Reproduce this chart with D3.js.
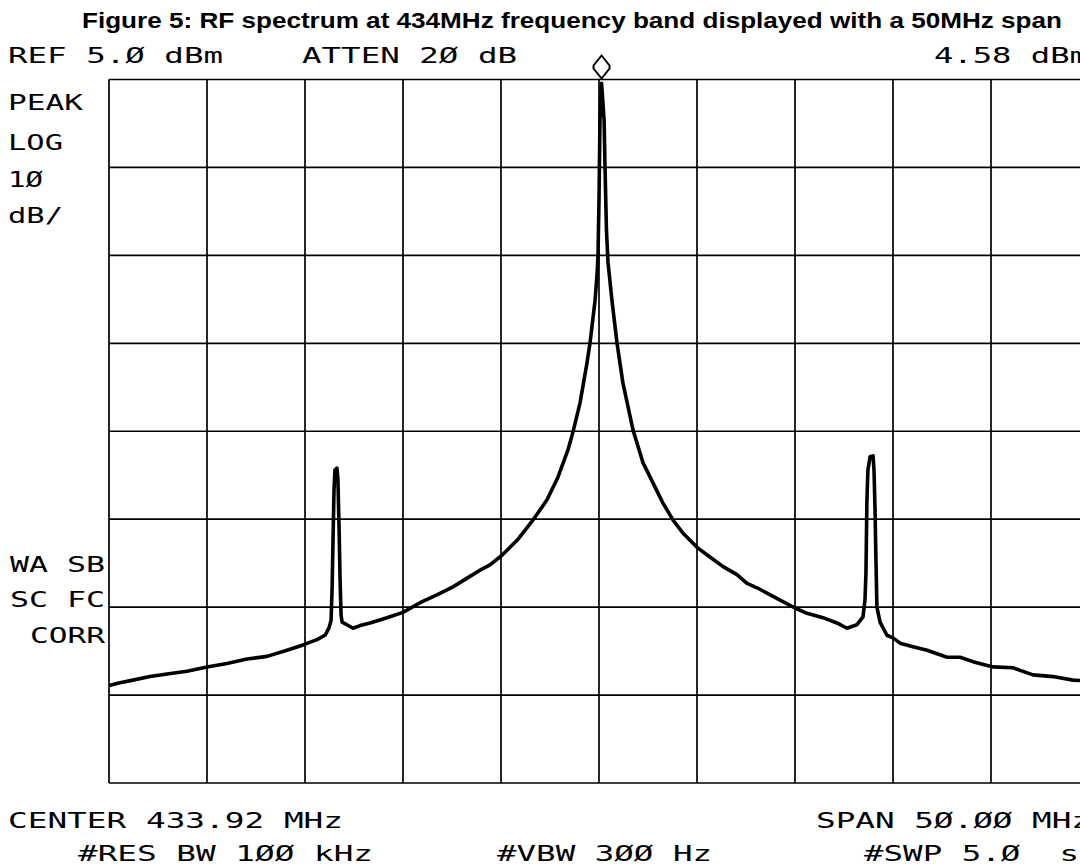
<!DOCTYPE html>
<html>
<head>
<meta charset="utf-8">
<script src="https://cdn.jsdelivr.net/npm/d3@7"></script>
<style>
  html, body { margin: 0; padding: 0; background: #fff; overflow: hidden; }
  .scr { font-family: "DejaVu Sans Mono", monospace; font-size: 21px; fill: #000; }
</style>
</head>
<body>
<script>
width = 1080;
height = 867;

// analyser settings
const centerMHz = 433.92;
const spanMHz = 50;
const refLevel = 5;        // dBm, top of screen
const dbPerDiv = 10;
const markerLevel = 4.58;  // dBm readout

// gridline values
const freqTicks = [408.92, 413.92, 418.92, 423.92, 428.92, 433.92, 438.92, 443.92, 448.92, 453.92, 458.92];
const levelTicks = [5, -5, -15, -25, -35, -45, -55, -65, -75];

// trace
const freqMHz = [
  408.92, 409.48, 410.14, 411.01, 411.88, 412.90, 413.92, 414.94, 415.96, 416.98,
  418.00, 418.82, 419.53, 419.94, 420.14, 420.25, 420.30, 420.35, 420.40, 420.45,
  420.55, 420.60, 420.66, 420.71, 420.76, 420.81, 421.06, 421.37, 421.73, 422.24,
  423.10, 423.92, 424.79, 425.65, 426.47, 427.19, 427.85, 428.36, 428.97, 429.74,
  430.55, 431.27, 431.83, 432.34, 432.59, 432.95, 433.31, 433.46, 433.72, 433.82,
  433.87, 433.92, 433.97, 434.05, 434.18, 434.23, 434.30, 434.38, 434.58, 434.84,
  435.14, 435.66, 436.17, 436.68, 437.19, 437.70, 438.21, 438.92, 439.58, 440.25,
  440.96, 441.47, 441.98, 442.49, 443.16, 443.92, 444.53, 445.35, 446.06, 446.57,
  447.08, 447.39, 447.49, 447.54, 447.59, 447.64, 447.75, 447.90, 447.95, 448.00,
  448.05, 448.10, 448.26, 448.61, 448.92, 449.28, 449.94, 450.66, 451.68, 452.34,
  453.00, 454.02, 455.04, 456.06, 457.08, 458.10, 458.92
];
const levelDbm = [
  -63.9, -63.6, -63.3, -62.9, -62.6, -62.3, -61.8, -61.4, -60.9, -60.6,
  -59.9, -59.3, -58.7, -58.2, -57.4, -56.5, -53.1, -47.4, -41.7, -39.4,
  -39.2, -40.5, -46.2, -51.9, -55.9, -56.7, -57.0, -57.4, -57.1, -56.8,
  -56.2, -55.6, -54.5, -53.6, -52.7, -51.7, -50.8, -50.2, -49.1, -47.4,
  -45.1, -42.8, -40.2, -37.1, -35.1, -31.8, -27.2, -25.0, -20.1, -17.2,
  -14.9, -8.7, 0.4, 4.58, 0.4, -5.3, -12.1, -15.8, -20.1, -25.0,
  -29.5, -34.9, -38.6, -40.9, -43.2, -45.1, -46.6, -48.2, -49.3, -50.4,
  -51.3, -52.3, -52.8, -53.4, -54.2, -55.1, -55.7, -56.2, -56.8, -57.4,
  -57.0, -56.1, -54.2, -51.1, -42.8, -39.4, -37.9, -37.8, -39.4, -43.6,
  -49.6, -55.0, -56.7, -58.2, -58.5, -59.1, -59.5, -59.9, -60.7, -60.7,
  -61.2, -61.8, -61.9, -62.7, -62.9, -63.3, -63.4
];

const trace = freqMHz.map((f, i) => ({f: f, db: levelDbm[i]}));
const peak = trace.reduce((a, b) => (b.db > a.db ? b : a));

const svg = d3.select('body')
            .append('svg')
            .attr('width', width)
            .attr('height', height)
            .attr('viewBox', [0, 0, width, height]);

svg.append('rect').attr('width', width).attr('height', height).attr('fill', '#fff');

x = d3.scaleLinear()
        .domain([centerMHz - spanMHz / 2, centerMHz + spanMHz / 2])
        .range([109, 1089]);
y = d3.scaleLinear()
        .domain([refLevel - 8 * dbPerDiv, refLevel])
        .range([783, 79.5]);

// graticule
svg.append('g')
    .selectAll('line')
    .data(freqTicks)
    .enter()
    .append('line')
    .attr('x1', d => x(d)).attr('x2', d => x(d))
    .attr('y1', y(levelTicks[0])).attr('y2', y(levelTicks[levelTicks.length - 1]))
    .attr('stroke', '#000')
    .attr('stroke-width', 1.7);

svg.append('g')
    .selectAll('line')
    .data(levelTicks)
    .enter()
    .append('line')
    .attr('x1', x(freqTicks[0])).attr('x2', x(freqTicks[freqTicks.length - 1]))
    .attr('y1', d => y(d)).attr('y2', d => y(d))
    .attr('stroke', '#000')
    .attr('stroke-width', 1.7);

// the trace
const line = d3.line()
        .x(d => x(d.f))
        .y(d => y(d.db));

svg.append('path')
    .datum(trace)
    .attr('d', line)
    .attr('fill', 'none')
    .attr('stroke', '#000')
    .attr('stroke-width', 3.6)
    .attr('stroke-linejoin', 'round');

// peak marker diamond
const mx = x(peak.f);
const my = y(refLevel);
svg.append('path')
    .attr('d', `M${mx},${my - 24} L${mx + 8},${my - 14} L${mx + 8},${my - 11} L${mx},${my - 1} L${mx - 8},${my - 11} L${mx - 8},${my - 14} Z`)
    .attr('fill', '#fff')
    .attr('stroke', '#000')
    .attr('stroke-width', 2);

// title
svg.append('text')
    .attr('x', 82)
    .attr('y', 28)
    .attr('font-family', '"Liberation Sans", Arial, sans-serif')
    .attr('font-weight', 'bold')
    .attr('font-size', 21.5)
    .attr('textLength', 980)
    .attr('lengthAdjust', 'spacingAndGlyphs')
    .text('Figure 5: RF spectrum at 434MHz frequency band displayed with a 50MHz span');

// screen annotations
const pitch = 20;
const labels = [
  {t: 'REF 5.Ø dBm', x: 8, y: 63},
  {t: 'ATTEN 2Ø dB', x: 302, y: 63},
  {t: markerLevel.toFixed(2) + ' dBm', x: 934, y: 63},
  {t: 'PEAK', x: 8, y: 110},
  {t: 'LOG', x: 8, y: 150},
  {t: '1Ø', x: 8, y: 187},
  {t: 'dB/', x: 8, y: 223},
  {t: 'WA SB', x: 10, y: 572},
  {t: 'SC FC', x: 10, y: 607},
  {t: 'CORR', x: 30, y: 643},
  {t: 'CENTER 433.92 MHz', x: 8, y: 828},
  {t: 'SPAN 5Ø.ØØ MHz', x: 816, y: 828},
  {t: '#RES BW 1ØØ kHz', x: 78, y: 861},
  {t: '#VBW 3ØØ Hz', x: 497, y: 861},
  {t: '#SWP 5.Ø  s', x: 864, y: 861}
];

svg.append('g')
    .selectAll('text')
    .data(labels)
    .enter()
    .append('text')
    .attr('class', 'scr')
    .attr('x', d => d.x)
    .attr('y', d => d.y)
    .attr('textLength', d => d.t.length * pitch - 5)
    .attr('lengthAdjust', 'spacingAndGlyphs')
    .attr('xml:space', 'preserve')
    .style('white-space', 'pre')
    .text(d => d.t);
</script>
</body>
</html>
